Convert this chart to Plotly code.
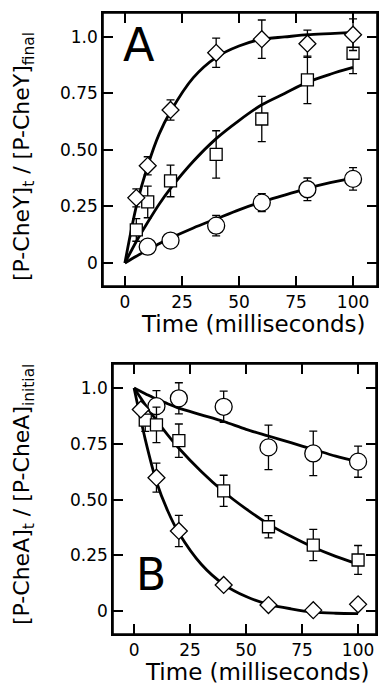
import plotly.graph_objects as go

# ---------------- data ----------------
# Panel A: [P-CheY]t / [P-CheY]final
a_dia_t = [5, 10, 20, 40, 60, 80, 100]
a_dia_y = [0.288, 0.43, 0.677, 0.93, 0.99, 0.97, 1.01]
a_dia_e = [0.04, 0.04, 0.045, 0.065, 0.085, 0.06, 0.07]

a_sq_t = [5, 10, 20, 40, 60, 80, 100]
a_sq_y = [0.146, 0.27, 0.363, 0.48, 0.637, 0.81, 0.928]
a_sq_e = [0.05, 0.07, 0.07, 0.105, 0.10, 0.105, 0.09]

a_ci_t = [10, 20, 40, 60, 80, 100]
a_ci_y = [0.072, 0.099, 0.165, 0.267, 0.326, 0.372]
a_ci_e = [0.03, 0.03, 0.045, 0.04, 0.05, 0.05]

fit_t = [0, 5, 10, 15, 20, 30, 40, 50, 60, 70, 80, 90, 100]
a_dia_fit = [0.0, 0.25, 0.43, 0.57, 0.67, 0.82, 0.91, 0.96, 0.99, 1.0, 1.01, 1.015, 1.02]
a_sq_fit = [0.0, 0.095, 0.18, 0.26, 0.33, 0.45, 0.55, 0.63, 0.70, 0.75, 0.80, 0.835, 0.865]
a_ci_fit = [0.0, 0.03, 0.057, 0.085, 0.11, 0.155, 0.195, 0.235, 0.27, 0.30, 0.33, 0.355, 0.375]

# Panel B: [P-CheA]t / [P-CheA]initial
b_dia_t = [3, 10, 20, 40, 60, 80, 100]
b_dia_y = [0.904, 0.598, 0.359, 0.117, 0.027, 0.004, 0.03]
b_dia_e = [0.02, 0.065, 0.07, 0.02, 0.02, 0.02, 0.02]

b_sq_t = [5, 10, 20, 40, 60, 80, 100]
b_sq_y = [0.856, 0.835, 0.764, 0.539, 0.378, 0.296, 0.229]
b_sq_e = [0.05, 0.08, 0.075, 0.07, 0.05, 0.07, 0.065]

b_ci_t = [10, 20, 40, 60, 80, 100]
b_ci_y = [0.919, 0.954, 0.916, 0.734, 0.707, 0.67]
b_ci_e = [0.07, 0.07, 0.07, 0.10, 0.10, 0.07]

b_dia_fit = [1.0, 0.77, 0.58, 0.45, 0.35, 0.21, 0.12, 0.065, 0.03, 0.01, -0.005, -0.01, -0.012]
b_sq_fit = [1.0, 0.925, 0.855, 0.79, 0.73, 0.626, 0.535, 0.458, 0.39, 0.335, 0.286, 0.245, 0.21]
b_ci_fit = [1.0, 0.975, 0.95, 0.93, 0.91, 0.88, 0.85, 0.815, 0.785, 0.755, 0.725, 0.695, 0.67]

x_tickvals = [0, 25, 50, 75, 100]
x_ticktext = ["0", "25", "50", "75", "100"]
y_tickvals = [0, 0.25, 0.5, 0.75, 1.0]
y_ticktext = ["0", "0.25", "0.50", "0.75", "1.0"]

# ---------------- figure ----------------
W, H = 388, 688
FONT = "DejaVu Sans"

def px_x(x):
    return x / W

def px_y(y):
    return 1 - y / H

fig = go.Figure()

def add_fit(t, y, xa, ya):
    fig.add_trace(go.Scatter(x=t, y=y, mode="lines", xaxis=xa, yaxis=ya,
                             line=dict(color="black", width=2.8, shape="spline", smoothing=0.8),
                             hoverinfo="skip", showlegend=False))

def add_pts(t, y, e, sym, size, xa, ya):
    fig.add_trace(go.Scatter(x=t, y=y, mode="markers", xaxis=xa, yaxis=ya,
                             marker=dict(symbol=sym, size=size, color="white",
                                         line=dict(color="black", width=1.3)),
                             error_y=dict(type="data", array=e, visible=True,
                                          color="black", thickness=1.3, width=4),
                             showlegend=False))

for yy in (a_dia_fit, a_sq_fit, a_ci_fit):
    add_fit(fit_t, yy, "x", "y")
for yy in (b_dia_fit, b_sq_fit, b_ci_fit):
    add_fit(fit_t, yy, "x2", "y2")

add_pts(a_ci_t, a_ci_y, a_ci_e, "circle", 17, "x", "y")
add_pts(a_sq_t, a_sq_y, a_sq_e, "square", 12, "x", "y")
add_pts(a_dia_t, a_dia_y, a_dia_e, "diamond", 13, "x", "y")
add_pts(b_ci_t, b_ci_y, b_ci_e, "circle", 17, "x2", "y2")
add_pts(b_sq_t, b_sq_y, b_sq_e, "square", 12, "x2", "y2")
add_pts(b_dia_t, b_dia_y, b_dia_e, "diamond", 13, "x2", "y2")

axis_common = dict(showgrid=False, zeroline=False, showline=True, linecolor="black",
                   linewidth=1.6, mirror="ticks", ticks="inside", ticklen=10,
                   tickwidth=1.5, tickcolor="black",
                   tickfont=dict(family=FONT, size=17, color="black"), automargin=False)

fig.update_layout(
    width=W, height=H,
    margin=dict(l=0, r=0, t=0, b=0),
    paper_bgcolor="white", plot_bgcolor="white",
    xaxis=dict(domain=[px_x(103), px_x(377)], range=[-9.6, 110.5], anchor="y",
               tickvals=x_tickvals, ticktext=x_ticktext, **axis_common),
    yaxis=dict(domain=[px_y(286), px_y(13)], range=[-0.102, 1.106], anchor="x",
               tickvals=y_tickvals, ticktext=y_ticktext, **axis_common),
    xaxis2=dict(domain=[px_x(113), px_x(376)], range=[-9.4, 108.0], anchor="y2",
                tickvals=x_tickvals, ticktext=x_ticktext, **axis_common),
    yaxis2=dict(domain=[px_y(634), px_y(364)], range=[-0.103, 1.108], anchor="x2",
                tickvals=y_tickvals, ticktext=y_ticktext, **axis_common),
)

# panel frames
for xr, yr in (("x domain", "y domain"), ("x2 domain", "y2 domain")):
    fig.add_shape(type="rect", xref=xr, yref=yr, x0=0, x1=1, y0=0, y1=1,
                  line=dict(color="black", width=1.6), layer="above")

ann = [
    dict(text="A", x=px_x(139), y=px_y(45), font=dict(size=46)),
    dict(text="B", x=px_x(151), y=px_y(574), font=dict(size=44)),
    dict(text="Time (milliseconds)", x=px_x(253), y=px_y(324), font=dict(size=23)),
    dict(text="Time (milliseconds)", x=px_x(257), y=px_y(672), font=dict(size=23)),
    dict(text="[P-CheY]<sub>t</sub> / [P-CheY]<sub>final</sub>", x=px_x(24), y=px_y(157),
         font=dict(size=22), textangle=-90),
    dict(text="[P-CheA]<sub>t</sub> / [P-CheA]<sub>initial</sub>", x=px_x(24), y=px_y(495),
         font=dict(size=22), textangle=-90),
]
for a in ann:
    a["font"] = dict(family=FONT, color="black", **a["font"])
    fig.add_annotation(xref="paper", yref="paper", showarrow=False,
                       xanchor="center", yanchor="middle", **a)

fig.write_html("out.html", config={"displayModeBar": False},
               post_script="document.body.style.margin='0px';document.body.style.padding='0px';")
